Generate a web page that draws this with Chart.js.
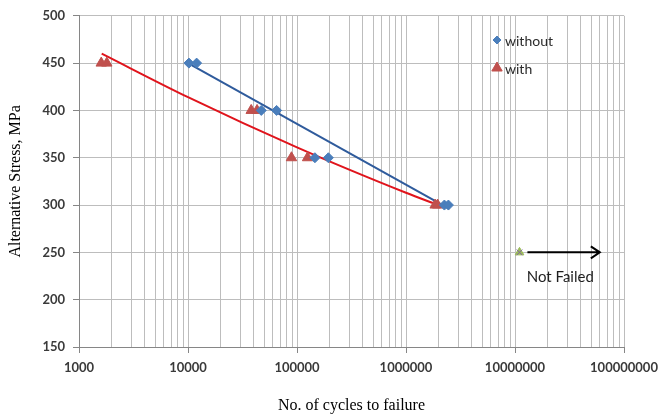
<!DOCTYPE html>
<html lang="en">
<head>
    <script src="https://cdn.jsdelivr.net/npm/chart.js@4.4.1/dist/chart.umd.min.js"></script>
    <title>S-N curve</title>
    <style>
        body { margin: 0; background: #fff; }
        #wrap { width: 660px; height: 415px; }
    </style>
</head>
<body>
<div id="wrap"><canvas id="myChart"></canvas></div>
</body>
<script>
    // data
    const stressLevels = [450, 450, 400, 400, 350, 350, 300, 300];
    const cyclesWithout = [10200, 12000, 47000, 65000, 146000, 194000, 2250000, 2450000];
    const cyclesWith = [1600, 1800, 38000, 43000, 89000, 125000, 1850000, 1950000];

    // trendlines
    const trendWithoutN = [10000, 2500000];
    const trendWithoutS = [450, 296];
    const trendWithN = [1615, 10000, 100000, 1000000, 1970000];
    const trendWithS = [460, 414, 361, 313, 300];

    const notFailedN = [11000000];
    const notFailedS = [250];
    const arrowN = [13000000, 60000000];
    const arrowS = 250;
    const noteN = 26000000;
    const noteS = 224;

    const xMajorTicks = [1000, 10000, 100000, 1000000, 10000000, 100000000];
    const yTicks = [150, 200, 250, 300, 350, 400, 450, 500];

    const blue = "#4a7ebb";
    const red = "#c0504d";
    const gridColor = "#bdbdbd";
    const tickFont = {family: "Lato", size: 13, weight: "bold"};

    const pts = (xs, ys) => xs.map((x, i) => ({x: x, y: Array.isArray(ys) ? ys[i] : ys}));

    const extras = {
        id: "extras",
        afterDatasetsDraw(chart) {
            const ctx = chart.ctx;
            const xs = chart.scales.x, ys = chart.scales.y;
            ctx.save();
            // arrow for the run-out
            const x1 = xs.getPixelForValue(arrowN[0]);
            const x2 = xs.getPixelForValue(arrowN[1]);
            const y = ys.getPixelForValue(arrowS);
            ctx.strokeStyle = "#000";
            ctx.lineWidth = 2;
            ctx.beginPath();
            ctx.moveTo(x1, y);
            ctx.lineTo(x2, y);
            ctx.moveTo(x2 - 9, y - 6);
            ctx.lineTo(x2, y);
            ctx.lineTo(x2 - 9, y + 6);
            ctx.stroke();
            ctx.fillStyle = "#1f1f1f";
            ctx.font = "15px Lato";
            ctx.textAlign = "center";
            ctx.textBaseline = "middle";
            ctx.fillText("Not Failed", xs.getPixelForValue(noteN), ys.getPixelForValue(noteS));

            // legend inside the plot
            const lx = 497;
            const items = [
                {label: "without", style: "rectRot", color: blue, r: 4, y: 40},
                {label: "with", style: "triangle", color: red, r: 6, y: 68}
            ];
            ctx.font = "14px Lato";
            ctx.textAlign = "left";
            items.forEach(it => {
                ctx.fillStyle = it.color;
                ctx.strokeStyle = it.color;
                ctx.lineWidth = 1;
                Chart.helpers.drawPoint(ctx, {pointStyle: it.style, radius: it.r, rotation: 0, borderWidth: 1}, lx, it.y);
                ctx.fillStyle = "#2b2b2b";
                ctx.fillText(it.label, lx + 8, it.y + 1);
            });
            ctx.restore();
        }
    };

    const chart = new Chart("myChart", {
        type: "scatter",
        data: {
            datasets: [
                {
                    label: "without",
                    data: pts(cyclesWithout, stressLevels),
                    pointStyle: "rectRot",
                    pointRadius: 5,
                    backgroundColor: blue,
                    borderColor: blue,
                    order: 1
                },
                {
                    label: "with",
                    data: pts(cyclesWith, stressLevels),
                    pointStyle: "triangle",
                    pointRadius: 6,
                    backgroundColor: red,
                    borderColor: red,
                    order: 2
                },
                {
                    label: "trend without",
                    type: "line",
                    data: pts(trendWithoutN, trendWithoutS),
                    borderColor: "#2f5b9c",
                    borderWidth: 2,
                    pointRadius: 0,
                    order: 3
                },
                {
                    label: "trend with",
                    type: "line",
                    data: pts(trendWithN, trendWithS),
                    borderColor: "#e0141c",
                    borderWidth: 2,
                    pointRadius: 0,
                    cubicInterpolationMode: "monotone",
                    order: 4
                },
                {
                    label: "not failed",
                    data: pts(notFailedN, notFailedS),
                    pointStyle: "triangle",
                    pointRadius: 5,
                    backgroundColor: "#9bbb59",
                    borderColor: "#9bbb59",
                    order: 0
                },
                {
                    label: "not failed x",
                    data: pts(notFailedN, notFailedS),
                    pointStyle: "crossRot",
                    pointRadius: 4,
                    borderColor: "#8064a2",
                    borderWidth: 1,
                    order: -1
                }
            ]
        },
        options: {
            responsive: true,
            maintainAspectRatio: false,
            animation: false,
            layout: {padding: {top: 12, right: 36, left: 0, bottom: 0}},
            plugins: {
                legend: {display: false},
                tooltip: {enabled: false}
            },
            scales: {
                x: {
                    type: "logarithmic",
                    min: 1000,
                    max: 100000000,
                    afterBuildTicks: (scale) => {
                        const t = [];
                        for (let d = 0; d < xMajorTicks.length - 1; d++) {
                            for (let m = 1; m < 10; m++) t.push({value: xMajorTicks[d] * m});
                        }
                        t.push({value: xMajorTicks[xMajorTicks.length - 1]});
                        scale.ticks = t;
                    },
                    afterFit: (scale) => {
                        scale.height = 68;
                        scale.paddingLeft = 0;
                        scale.paddingRight = 0;
                    },
                    ticks: {
                        autoSkip: false,
                        maxRotation: 0,
                        padding: 7,
                        color: "#3a3a3a",
                        font: tickFont,
                        callback: (v) => xMajorTicks.includes(v) ? String(v) : ""
                    },
                    grid: {
                        color: gridColor,
                        tickLength: 6,
                        tickColor: (c) => xMajorTicks.includes(c.tick && c.tick.value) ? "#868686" : "rgba(0,0,0,0)"
                    },
                    border: {color: "#868686"},
                    title: {
                        display: true,
                        text: "No. of cycles to failure",
                        color: "#000",
                        font: {family: "Liberation Serif", size: 16},
                        padding: {top: 10, bottom: 0}
                    }
                },
                y: {
                    min: 150,
                    max: 500,
                    afterBuildTicks: (scale) => { scale.ticks = yTicks.map(v => ({value: v})); },
                    afterFit: (scale) => { scale.width = 79; },
                    ticks: {
                        padding: 8,
                        color: "#3a3a3a",
                        font: tickFont
                    },
                    grid: {
                        color: gridColor,
                        tickLength: 6,
                        tickColor: "#868686"
                    },
                    border: {color: "#868686"},
                    title: {
                        display: true,
                        text: "Alternative Stress, MPa",
                        color: "#000",
                        font: {family: "Liberation Serif", size: 16},
                        padding: {top: 6, bottom: 0}
                    }
                }
            }
        },
        plugins: [extras]
    });
</script>
</html>
